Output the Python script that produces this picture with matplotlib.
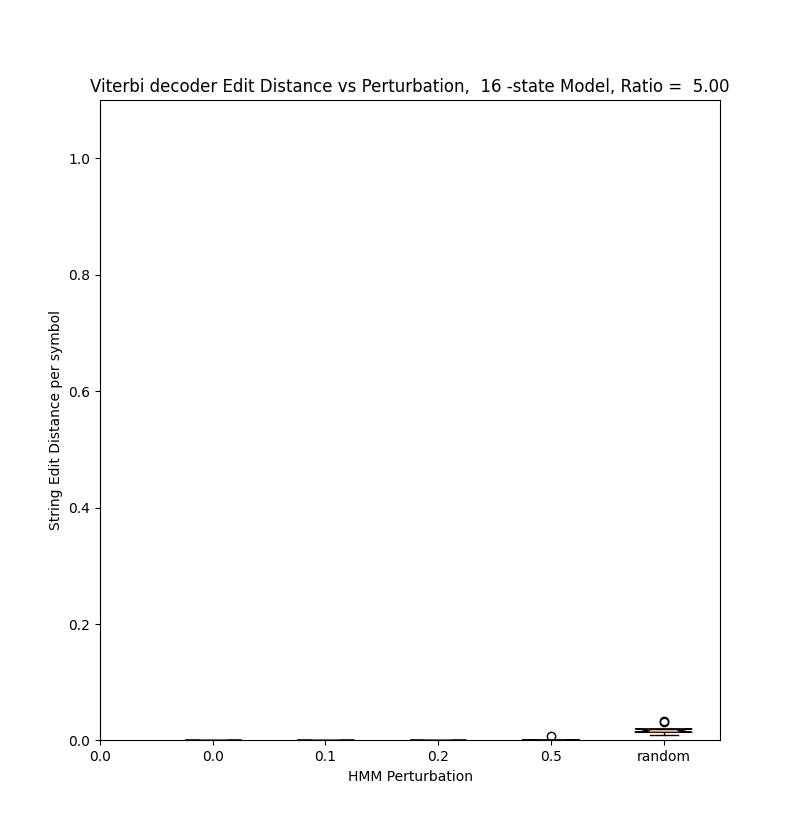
import numpy as np
import matplotlib
matplotlib.use("Agg")
import matplotlib.pyplot as plt

##################################################
### values
perturbation = ['0.0', '0.1', '0.2', '0.5', 'random']
tick_labels  = ['0.0', '0.0', '0.1', '0.2', '0.5', 'random']

ed_00     = [0.0, 0.0, 0.0, 0.0, 0.0, 0.0, 0.0, 0.0, 0.0]
ed_01     = [0.0, 0.0, 0.0, 0.0, 0.0, 0.0, 0.0, 0.0, 0.0]
ed_02     = [0.0, 0.0, 0.0, 0.0, 0.0, 0.0, 0.0, 0.0, 0.0]
ed_05     = [0.0, 0.0, 0.0, 0.0005, 0.001, 0.001, 0.0015, 0.007]
ed_random = [0.010, 0.012, 0.014, 0.016, 0.017, 0.018, 0.020, 0.031, 0.033]

nstates = 16
ratio   = 5.0
##################################################

fig, ax = plt.subplots(figsize=(8, 8.32), dpi=100)
ax.boxplot([ed_00, ed_01, ed_02, ed_05, ed_random], notch=True)
ax.set_xlim(0, 5.5)
ax.set_ylim(0, 1.1)
ax.set_xticks(range(len(tick_labels)))
ax.set_xticklabels(tick_labels)
ax.set_xlabel("HMM Perturbation")
ax.set_ylabel("String Edit Distance per symbol")
ax.set_title("Viterbi decoder Edit Distance vs Perturbation, {:3d} -state Model, Ratio = {:5.2f}".format(nstates, ratio))
fig.savefig("out.png", dpi=100)
